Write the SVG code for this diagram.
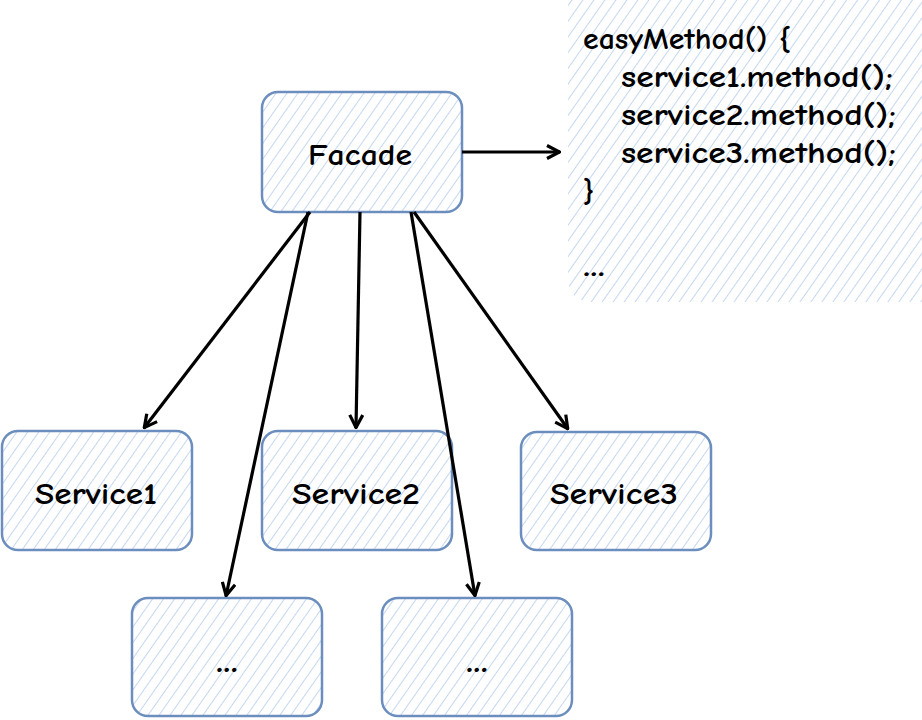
<svg xmlns="http://www.w3.org/2000/svg" width="922" height="720" viewBox="0 0 922 720">
<style>
.box{fill:url(#hatch);stroke:#6c8ebf;stroke-width:2.5}
.lbl{font-family:"Comic Neue","Liberation Sans",sans-serif;font-weight:700;font-size:30px;fill:#000;text-anchor:middle}
.code{font-family:"Comic Neue","Liberation Sans",sans-serif;font-weight:700;font-size:30px;fill:#000}
.dots{font-family:"Comic Neue","Liberation Sans",sans-serif;font-weight:700;font-size:34px;fill:#000;text-anchor:middle}
.conn{stroke:#000;stroke-width:3.2;fill:none;marker-end:url(#arr)}
</style>
<defs>
<pattern id="hatch" patternUnits="userSpaceOnUse" width="9" height="9" patternTransform="rotate(35)">
<rect width="9" height="9" fill="#fff"/>
<line x1="0" y1="0" x2="0" y2="9" stroke="#bfd3ee" stroke-width="1.8"/>
</pattern>
<marker id="arr" viewBox="0 0 16 16" refX="15" refY="8" markerWidth="16" markerHeight="16" markerUnits="userSpaceOnUse" orient="auto">
<path d="M2,1.5 L14.5,8 L2,14.5" fill="none" stroke="#000" stroke-width="3.2"/>
</marker>
</defs>
<rect width="922" height="720" fill="#fff"/>
<g id="code">
<rect x="568" y="-20" width="380" height="322" rx="22" fill="url(#hatch)"/>
<text class="code" x="583" y="49" textLength="208" lengthAdjust="spacingAndGlyphs">easyMethod() {</text>
<text class="code" x="621" y="87" textLength="272" lengthAdjust="spacingAndGlyphs">service1.method();</text>
<text class="code" x="621" y="125" textLength="275" lengthAdjust="spacingAndGlyphs">service2.method();</text>
<text class="code" x="621" y="163" textLength="275" lengthAdjust="spacingAndGlyphs">service3.method();</text>
<text class="code" x="583" y="201">}</text>
<text class="code" x="583" y="276" textLength="22" lengthAdjust="spacingAndGlyphs">...</text>
</g>
<g id="facade">
<rect class="box" x="262" y="92" width="200" height="120" rx="16"/>
<text class="lbl" x="360" y="165" textLength="104" lengthAdjust="spacingAndGlyphs">Facade</text>
</g>
<g id="service1">
<rect class="box" x="2" y="431" width="190" height="119" rx="16"/>
<text class="lbl" x="96" y="504" textLength="122" lengthAdjust="spacingAndGlyphs">Service1</text>
</g>
<g id="service2">
<rect class="box" x="262" y="431" width="190" height="119" rx="16"/>
<text class="lbl" x="356" y="504" textLength="128" lengthAdjust="spacingAndGlyphs">Service2</text>
</g>
<g id="service3">
<rect class="box" x="521" y="432" width="190" height="118" rx="16"/>
<text class="lbl" x="614" y="504" textLength="128" lengthAdjust="spacingAndGlyphs">Service3</text>
</g>
<g id="more1">
<rect class="box" x="132" y="598" width="190" height="118" rx="16"/>
<text class="dots" x="227" y="672" textLength="22" lengthAdjust="spacingAndGlyphs">...</text>
</g>
<g id="more2">
<rect class="box" x="382" y="598" width="190" height="118" rx="16"/>
<text class="dots" x="477" y="672" textLength="22" lengthAdjust="spacingAndGlyphs">...</text>
</g>
<g id="connectors">
<line class="conn" x1="462" y1="152" x2="560" y2="152"/>
<line class="conn" x1="310" y1="212" x2="144" y2="428"/>
<line class="conn" x1="308" y1="212" x2="226" y2="596"/>
<line class="conn" x1="360" y1="212" x2="356" y2="428"/>
<line class="conn" x1="411" y1="212" x2="475" y2="596"/>
<line class="conn" x1="414" y1="212" x2="568" y2="429"/>
</g>
</svg>
